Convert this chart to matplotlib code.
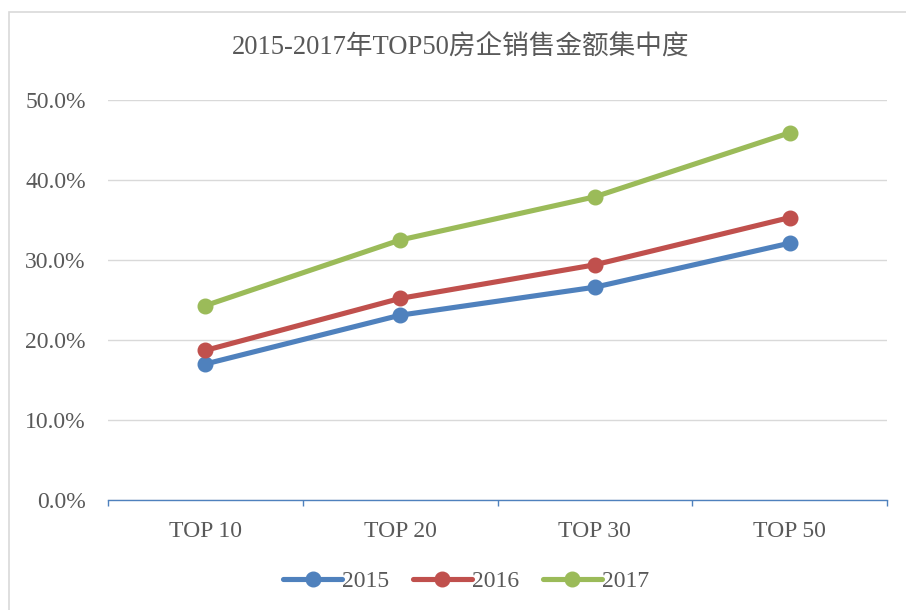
import matplotlib
matplotlib.use("Agg")
import matplotlib.pyplot as plt
from matplotlib.patches import Rectangle
from matplotlib.ticker import FuncFormatter, FixedLocator, NullFormatter

plt.rcParams['font.family'] = ['Liberation Serif', 'Noto Sans CJK SC', 'DejaVu Sans']

title = "2015-2017年TOP50房企销售金额集中度"
categories = ["TOP 10", "TOP 20", "TOP 30", "TOP 50"]
years = ["2015", "2016", "2017"]
values_2015 = [17.0, 23.1, 26.6, 32.1]
values_2016 = [18.7, 25.2, 29.4, 35.3]
values_2017 = [24.3, 32.5, 37.9, 45.9]
series = [values_2015, values_2016, values_2017]
colors = ["#4F81BD", "#C0504D", "#9BBB59"]
text_color = "#595959"

W, H = 906, 610
fig = plt.figure(figsize=(W / 100, H / 100), dpi=100)

# outer chart border
fig.patches.append(Rectangle((9 / W, -0.05), 1.2, 1 - 12 / H + 0.05,
                             transform=fig.transFigure, fill=False,
                             edgecolor="#D9D9D9", lw=1.2, clip_on=False))

ax = fig.add_axes([108 / W, 1 - 500 / H, (887 - 108) / W, 400 / H])

x = list(range(len(categories)))
for yr, vals, c in zip(years, series, colors):
    ax.plot(x, vals, color=c, lw=3.7, marker='o', markersize=10.5,
            solid_capstyle='round', label=yr, zorder=3)

ax.set_xlim(-0.5, len(categories) - 0.5)
ax.set_ylim(0, 50)
ax.set_yticks([0, 10, 20, 30, 40, 50])
ax.yaxis.set_major_formatter(FuncFormatter(lambda v, p: f"{v:.1f}%"))
ax.yaxis.grid(True, color="#D9D9D9", lw=1.0)
ax.set_axisbelow(True)
ax.tick_params(axis='y', length=0, pad=16, labelsize=17, labelcolor=text_color)

ax.set_xticks(x)
ax.set_xticklabels(categories)
ax.tick_params(axis='x', which='major', length=0, pad=15, labelsize=17,
               labelcolor=text_color)
ax.xaxis.set_minor_locator(FixedLocator([i - 0.5 for i in range(len(categories) + 1)]))
ax.xaxis.set_minor_formatter(NullFormatter())
ax.tick_params(axis='x', which='minor', length=4.5, width=1.0, color="#4F81BD")

for s in ['top', 'right', 'left']:
    ax.spines[s].set_visible(False)
ax.spines['bottom'].set_color("#4F81BD")
ax.spines['bottom'].set_linewidth(1.0)

fig.text(461 / W, 1 - 48 / H, title, ha='center', va='center',
         fontsize=19.2, color=text_color)

leg = fig.legend(loc='center', bbox_to_anchor=(466 / W, 1 - 581 / H), ncol=3,
                 frameon=False, fontsize=17, handlelength=2.5, handletextpad=0.0,
                 columnspacing=1.0, labelcolor=text_color)

fig.savefig("out.png", dpi=100)
